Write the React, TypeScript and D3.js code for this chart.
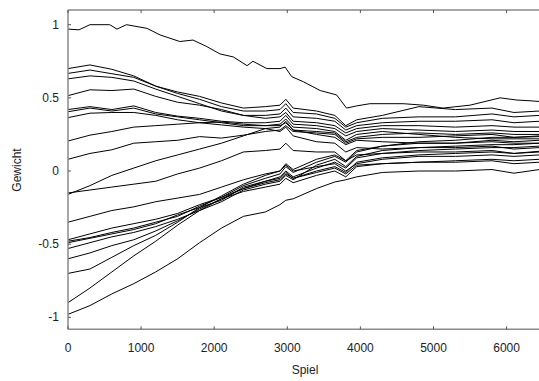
import React from "react";
import * as d3 from "d3";

const games = [0, 300, 600, 900, 1200, 1500, 1800, 2100, 2400, 2700, 2900, 2980, 3080, 3400, 3650, 3800, 3950, 4300, 4800, 5300, 5800, 6100, 6450];
const gamesTop = [0, 150, 300, 570, 670, 800, 1080, 1260, 1530, 1710, 1900, 2080, 2260, 2450, 2530, 2720, 2900, 2970, 3060, 3220, 3450, 3675, 3810, 3950, 4130, 4585, 4860, 5130, 5500, 5910, 6140, 6320, 6450];

const wTop = [0.97, 0.965, 1.0, 1.0, 0.97, 1.0, 0.975, 0.93, 0.885, 0.895, 0.85, 0.8, 0.78, 0.72, 0.75, 0.7, 0.7, 0.71, 0.645, 0.61, 0.55, 0.52, 0.43, 0.445, 0.46, 0.46, 0.45, 0.43, 0.45, 0.5, 0.485, 0.48, 0.475];
const w02 = [0.7, 0.725, 0.695, 0.65, 0.58, 0.54, 0.51, 0.465, 0.43, 0.44, 0.45, 0.49, 0.43, 0.41, 0.38, 0.31, 0.35, 0.38, 0.44, 0.42, 0.43, 0.4, 0.41];
const w03 = [0.667, 0.69, 0.665, 0.64, 0.58, 0.53, 0.49, 0.44, 0.41, 0.41, 0.42, 0.46, 0.4, 0.39, 0.36, 0.3, 0.33, 0.36, 0.37, 0.37, 0.39, 0.37, 0.38];
const w04 = [0.63, 0.65, 0.64, 0.615, 0.56, 0.51, 0.46, 0.41, 0.38, 0.38, 0.39, 0.43, 0.37, 0.36, 0.34, 0.28, 0.31, 0.33, 0.34, 0.34, 0.35, 0.33, 0.34];
const w05 = [0.515, 0.555, 0.55, 0.56, 0.51, 0.47, 0.45, 0.42, 0.38, 0.36, 0.37, 0.4, 0.34, 0.33, 0.31, 0.26, 0.29, 0.31, 0.31, 0.3, 0.31, 0.3, 0.3];
const w06 = [0.42, 0.44, 0.42, 0.445, 0.4, 0.375, 0.36, 0.34, 0.33, 0.33, 0.34, 0.38, 0.32, 0.31, 0.29, 0.24, 0.27, 0.29, 0.28, 0.27, 0.28, 0.27, 0.27];
const w07 = [0.405, 0.43, 0.41, 0.43, 0.39, 0.37, 0.35, 0.33, 0.31, 0.31, 0.32, 0.355, 0.3, 0.29, 0.27, 0.21, 0.25, 0.27, 0.25, 0.23, 0.22, 0.22, 0.22];
const w08 = [0.365, 0.395, 0.4, 0.4, 0.38, 0.35, 0.33, 0.315, 0.3, 0.29, 0.3, 0.34, 0.28, 0.27, 0.26, 0.2, 0.23, 0.25, 0.26, 0.25, 0.26, 0.25, 0.25];
const w09 = [0.205, 0.245, 0.27, 0.3, 0.31, 0.32, 0.33, 0.335, 0.32, 0.31, 0.31, 0.33, 0.28, 0.25, 0.23, 0.18, 0.21, 0.2, 0.19, 0.19, 0.2, 0.19, 0.19];
const w10 = [0.08, 0.12, 0.145, 0.19, 0.2, 0.21, 0.235, 0.225, 0.245, 0.27, 0.28, 0.31, 0.27, 0.26, 0.25, 0.19, 0.22, 0.23, 0.23, 0.24, 0.25, 0.23, 0.235];
const w11 = [-0.16, -0.1, -0.03, 0.02, 0.07, 0.11, 0.15, 0.19, 0.24, 0.29, 0.27, 0.3, 0.24, 0.2, 0.19, 0.13, 0.16, 0.15, 0.16, 0.16, 0.17, 0.15, 0.16];
const w12 = [-0.15, -0.13, -0.11, -0.09, -0.07, -0.02, 0.02, 0.07, 0.13, 0.14, 0.15, 0.19, 0.14, 0.13, 0.13, 0.07, 0.11, 0.12, 0.13, 0.13, 0.14, 0.12, 0.13];
const w13 = [-0.35, -0.31, -0.27, -0.245, -0.21, -0.185, -0.16, -0.11, -0.06, -0.02, 0.0, 0.04, 0.0, 0.03, 0.05, 0.0, 0.05, 0.08, 0.1, 0.1, 0.11, 0.1, 0.11];
const w14 = [-0.47, -0.43, -0.39, -0.36, -0.33, -0.29, -0.23, -0.18, -0.1, -0.05, -0.02, 0.03, -0.01, 0.06, 0.1, 0.06, 0.13, 0.17, 0.2, 0.21, 0.23, 0.23, 0.24];
const w15 = [-0.48, -0.455, -0.42, -0.39, -0.35, -0.31, -0.24, -0.18, -0.12, -0.08, -0.06, -0.02, -0.05, 0.0, 0.03, -0.01, 0.06, 0.09, 0.11, 0.12, 0.13, 0.12, 0.135];
const w16 = [-0.49, -0.46, -0.43, -0.4, -0.36, -0.3, -0.25, -0.2, -0.11, -0.07, -0.04, 0.0, -0.04, 0.02, 0.06, 0.02, 0.09, 0.12, 0.14, 0.15, 0.16, 0.16, 0.17];
const w17 = [-0.53, -0.49, -0.45, -0.42, -0.38, -0.33, -0.27, -0.21, -0.13, -0.09, -0.07, -0.03, -0.06, 0.04, 0.08, 0.03, 0.1, 0.14, 0.16, 0.17, 0.18, 0.18, 0.19];
const w18 = [-0.6, -0.56, -0.51, -0.47, -0.41, -0.34, -0.26, -0.19, -0.14, -0.11, -0.09, -0.05, -0.08, -0.03, 0.0, -0.04, 0.03, 0.05, 0.06, 0.07, 0.08, 0.07, 0.08];
const w19 = [-0.7, -0.67, -0.59, -0.51, -0.44, -0.35, -0.25, -0.17, -0.09, -0.03, 0.0, 0.05, 0.01, 0.08, 0.11, 0.07, 0.14, 0.17, 0.19, 0.19, 0.21, 0.2, 0.21];
const w20 = [-0.9, -0.8, -0.69, -0.58, -0.48, -0.37, -0.27, -0.19, -0.12, -0.07, -0.05, -0.01, -0.05, -0.01, 0.02, -0.02, 0.04, 0.05, 0.06, 0.06, 0.07, 0.05, 0.06];
const w21 = [-0.98, -0.92, -0.84, -0.77, -0.69, -0.6, -0.49, -0.39, -0.31, -0.28, -0.23, -0.2, -0.19, -0.12, -0.075, -0.06, -0.04, -0.01, 0.0, 0.0, 0.01, -0.015, 0.01];

const weights = [w02, w03, w04, w05, w06, w07, w08, w09, w10, w11, w12, w13, w14, w15, w16, w17, w18, w19, w20, w21];

const xTicks = [0, 1000, 2000, 3000, 4000, 5000, 6000];
const yTicks = [-1, -0.5, 0, 0.5, 1];
const yTickLabels = ["-1", "-0.5", "0", "0.5", "1"];

const W = 539;
const H = 381;
const left = 68;
const top = 10;
const bottom = 329.3;
const right = 539;

export default function App() {
  const x = d3.scaleLinear().domain([0, 6000]).range([left, 506.6]);
  const y = d3.scaleLinear().domain([-1, 1]).range([317.3, 24.7]);
  const line = d3
    .line<number>()
    .x((_, i) => x(games[i]))
    .y((d) => y(d));
  const lineTop = d3
    .line<number>()
    .x((_, i) => x(gamesTop[i]))
    .y((d) => y(d));

  const axisColor = "#8a8a8a";
  const font = "'Liberation Sans', Arial, sans-serif";

  return (
    <div style={{ position: "absolute", left: 0, top: 0 }}>
      <svg width={W} height={H} style={{ display: "block", background: "#fff" }}>
        <defs>
          <clipPath id="plot">
            <rect x={left} y={top} width={right - left} height={bottom - top} />
          </clipPath>
        </defs>
        <g clipPath="url(#plot)">
          <path d={lineTop(wTop) || ""} fill="none" stroke="#000" strokeWidth={1} strokeLinejoin="round" />
          {weights.map((s, i) => (
            <path key={i} d={line(s) || ""} fill="none" stroke="#000" strokeWidth={1} strokeLinejoin="round" />
          ))}
        </g>
        <line x1={left} x2={right} y1={top} y2={top} stroke={axisColor} strokeWidth={1.5} />
        <line x1={left} x2={right} y1={bottom} y2={bottom} stroke={axisColor} strokeWidth={1.5} />
        <line x1={left} x2={left} y1={top} y2={bottom} stroke={axisColor} strokeWidth={1.5} />
        {xTicks.map((t) => (
          <g key={t}>
            <line x1={x(t)} x2={x(t)} y1={bottom} y2={bottom - 3} stroke="#555" strokeWidth={1} />
            <line x1={x(t)} x2={x(t)} y1={top} y2={top + 3} stroke="#555" strokeWidth={1} />
            <text x={x(t)} y={352} textAnchor="middle" fontFamily={font} fontSize={12} fill="#222">
              {t}
            </text>
          </g>
        ))}
        {yTicks.map((t, i) => (
          <g key={t}>
            <line x1={left} x2={left + 3} y1={y(t)} y2={y(t)} stroke="#555" strokeWidth={1} />
            <text x={59} y={y(t) + 4} textAnchor="end" fontFamily={font} fontSize={12} fill="#222">
              {yTickLabels[i]}
            </text>
          </g>
        ))}
        <text x={305} y={374} textAnchor="middle" fontFamily={font} fontSize={12} fill="#222">
          Spiel
        </text>
        <text
          transform={`translate(21,170) rotate(-90)`}
          textAnchor="middle"
          fontFamily={font}
          fontSize={12}
          fill="#222"
        >
          Gewicht
        </text>
      </svg>
    </div>
  );
}
